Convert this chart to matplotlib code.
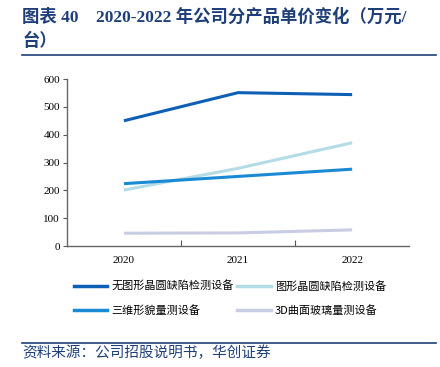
import matplotlib
matplotlib.use("Agg")
import matplotlib.pyplot as plt
from matplotlib.lines import Line2D

plt.rcParams['font.family'] = ['Noto Sans CJK SC', 'DejaVu Sans']

# data
years = ['2020', '2021', '2022']
s_nopattern = [450, 551, 544]     # 无图形晶圆缺陷检测设备
s_pattern = [201, 279, 371]       # 图形晶圆缺陷检测设备
s_3d = [224, 250, 276]            # 三维形貌量测设备
s_glass = [46, 47, 58]            # 3D曲面玻璃量测设备
names = ['无图形晶圆缺陷检测设备', '图形晶圆缺陷检测设备', '三维形貌量测设备', '3D曲面玻璃量测设备']
colors = ['#0D5FB5', '#B4DCE6', '#1A8AD4', '#C8CDE3']

fig = plt.figure(figsize=(4.4, 3.67), dpi=100)
ax = fig.add_axes([0.152, 0.3297, 0.778, 0.455])

x = range(len(years))
for vals, c in zip([s_nopattern, s_pattern, s_3d, s_glass], colors):
    ax.plot(x, vals, color=c, lw=2.2, solid_capstyle='butt')

ax.set_xlim(-0.5, 2.5)
ax.set_ylim(0, 600)
ax.set_yticks(range(0, 601, 100))
ax.set_xticks([0.5, 1.5], minor=False)
ax.set_xticklabels(['', ''])
ax.set_xticks(list(x), minor=True)
ax.set_xticklabels(years, minor=True, fontfamily='Liberation Serif', fontsize=8)
ax.tick_params(axis='x', which='minor', length=0, pad=7)
ax.tick_params(axis='x', which='major', length=4, color='#555555', direction='in')
ax.tick_params(axis='y', length=3, color='#555555', labelsize=8, pad=2)
for lab in ax.get_yticklabels():
    lab.set_fontfamily('Liberation Serif')
for s in ['top', 'right']:
    ax.spines[s].set_visible(False)
for s in ['left', 'bottom']:
    ax.spines[s].set_color('#666666')
    ax.spines[s].set_linewidth(1.0)

# legend fills column-wise, so order: col1 = [0, 2], col2 = [1, 3]
order = [0, 2, 1, 3]
handles = [Line2D([0], [0], color=colors[i], lw=2.5) for i in order]
labels = [names[i] for i in order]
fig.legend(handles, labels, loc='upper left', bbox_to_anchor=(0.145, 0.262),
           ncol=2, frameon=False, handlelength=3.0,
           handletextpad=0.4, columnspacing=0.3, labelspacing=1.2,
           prop={'family': ['Noto Sans CJK SC', 'DejaVu Sans'], 'size': 8})

navy = '#1F3F7A'
tfam = ['Liberation Serif', 'Noto Sans CJK SC']
fig.text(0.05, 0.954, '图表 40    2020-2022 年公司分产品单价变化（万元/', fontsize=12.5,
         fontweight='bold', color=navy, va='center', family=tfam)
fig.text(0.05, 0.886, '台）', fontsize=12.5, fontweight='bold', color=navy, va='center',
         family=tfam)
fig.add_artist(Line2D([0.05, 0.99], [0.85, 0.85], color=navy, lw=1.2,
                      transform=fig.transFigure))
fig.add_artist(Line2D([0.05, 0.99], [0.065, 0.065], color=navy, lw=1.2,
                      transform=fig.transFigure))
fig.text(0.05, 0.038, '资料来源：公司招股说明书，华创证券', fontsize=10.5,
         color=navy, style='italic', va='center')

fig.savefig('out.png', dpi=100)
